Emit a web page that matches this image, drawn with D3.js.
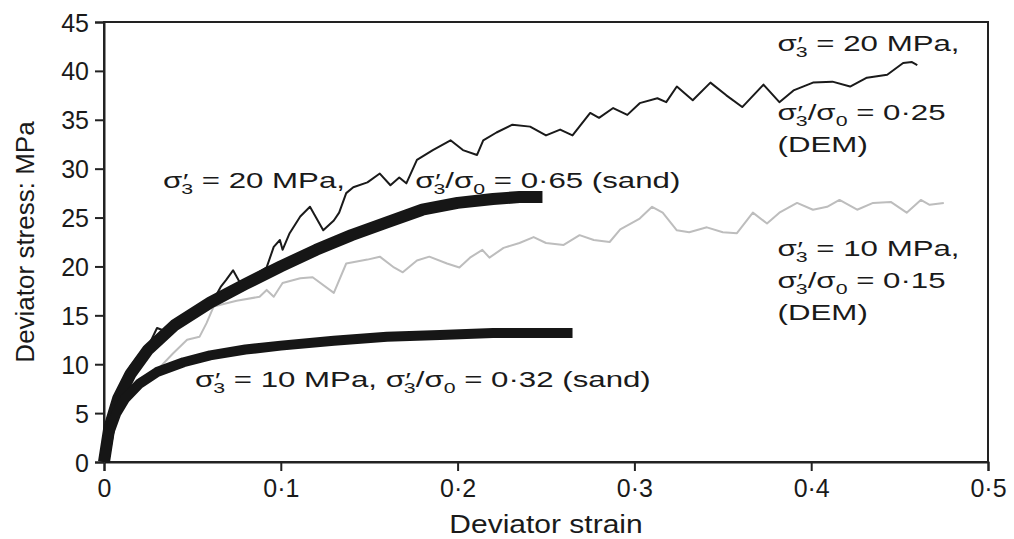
<!DOCTYPE html>
<html>
<head>
<meta charset="utf-8">
<script src="https://cdn.jsdelivr.net/npm/d3@7"></script>
<style>
  html, body { margin: 0; padding: 0; background: #fff; }
  svg text { font-family: "Liberation Sans", Arial, sans-serif; fill: #1a1a1a; white-space: pre; }
</style>
</head>
<body>
<svg id="chart" width="1014" height="539"></svg>
<script>
// axis ticks
const xTicks = [0, 0.1, 0.2, 0.3, 0.4, 0.5];
const yTicks = [0, 5, 10, 15, 20, 25, 30, 35, 40, 45];

// sand, sigma3' = 20 MPa (thick)
const sand20 = [[0,0],[0.003,3.5],[0.008,6.5],[0.015,9],[0.025,11.5],[0.04,14],[0.06,16.3],[0.08,18.2],
  [0.1,20],[0.12,21.7],[0.14,23.2],[0.16,24.5],[0.18,25.8],[0.2,26.5],[0.22,26.9],[0.235,27.1],[0.248,27.1]];

// sand, sigma3' = 10 MPa (thick)
const sand10 = [[0,0],[0.003,3],[0.007,5],[0.012,6.5],[0.02,8],[0.03,9.2],[0.045,10.2],[0.06,10.9],
  [0.08,11.5],[0.1,11.9],[0.13,12.4],[0.16,12.8],[0.19,13.0],[0.22,13.2],[0.25,13.2],[0.265,13.2]];

// DEM, sigma3' = 20 MPa (thin black)
const dem20 = [[0,0],[0.005,5],[0.01,8],[0.015,9.8],[0.0187,10.7],[0.026,12.2],[0.03,13.7],[0.033,13.5],
  [0.036,12.8],[0.047,14.5],[0.055,15.4],[0.062,16.6],[0.066,17.9],[0.069,18.6],[0.073,19.6],[0.077,18.3],
  [0.083,18.9],[0.092,19.9],[0.096,22.0],[0.0995,22.7],[0.101,21.7],[0.105,23.4],[0.111,25.1],[0.1165,26.1],
  [0.124,23.7],[0.13,24.7],[0.133,25.5],[0.137,27.5],[0.141,28.1],[0.149,28.6],[0.156,29.5],[0.162,28.3],
  [0.167,29.1],[0.171,28.5],[0.177,30.9],[0.186,31.9],[0.196,32.9],[0.203,31.9],[0.211,31.4],[0.2145,32.9],
  [0.222,33.7],[0.231,34.5],[0.241,34.3],[0.25,33.4],[0.258,34.0],[0.265,33.4],[0.275,35.7],[0.28,35.2],
  [0.288,36.2],[0.296,35.5],[0.303,36.7],[0.313,37.2],[0.318,36.8],[0.324,38.4],[0.333,37.0],[0.343,38.8],
  [0.352,37.5],[0.361,36.3],[0.373,38.6],[0.382,36.8],[0.39,38.0],[0.401,38.8],[0.412,38.9],[0.422,38.4],
  [0.4315,39.3],[0.443,39.6],[0.452,40.8],[0.457,40.9],[0.46,40.6]];

// DEM, sigma3' = 10 MPa (grey)
const dem10 = [[0,0],[0.01,6],[0.02,8.5],[0.03,9.4],[0.039,11.1],[0.047,12.5],[0.054,12.8],[0.058,14.2],
  [0.062,15.9],[0.075,16.5],[0.088,16.9],[0.092,17.6],[0.096,16.9],[0.101,18.3],[0.111,18.8],[0.118,18.9],
  [0.13,17.3],[0.137,20.3],[0.149,20.7],[0.156,21.0],[0.164,19.9],[0.169,19.4],[0.177,20.6],[0.184,21.0],
  [0.194,20.3],[0.201,19.9],[0.207,20.9],[0.214,21.7],[0.218,20.9],[0.226,21.9],[0.235,22.4],[0.243,23.0],
  [0.25,22.4],[0.26,22.2],[0.269,23.2],[0.277,22.7],[0.286,22.5],[0.292,23.8],[0.303,24.9],[0.31,26.1],
  [0.316,25.5],[0.324,23.7],[0.331,23.5],[0.341,24.0],[0.35,23.5],[0.358,23.4],[0.367,25.5],[0.375,24.4],
  [0.382,25.5],[0.392,26.5],[0.401,25.8],[0.409,26.1],[0.416,26.8],[0.426,25.8],[0.435,26.5],[0.445,26.6],
  [0.454,25.5],[0.462,26.8],[0.467,26.3],[0.475,26.5]];

// annotations: {s3} = sigma'_3, {s0} = sigma_0 ; anchor [strain, stress] of first baseline
const notes = [
  { at: [0.0334, 28.0], lines: ["{s3} = 20 MPa,"] },
  { at: [0.176, 28.0], lines: ["{s3}/{s0} = 0·65 (sand)"] },
  { at: [0.0515, 7.7], lines: ["{s3} = 10 MPa, {s3}/{s0} = 0·32 (sand)"] },
  { at: [0.381, 42.0], lines: ["{s3} = 20 MPa,"] },
  { at: [0.381, 35.0], lines: ["{s3}/{s0} = 0·25", "(DEM)"] },
  { at: [0.381, 21.1], lines: ["{s3} = 10 MPa,", "{s3}/{s0} = 0·15", "(DEM)"] }
];

const margin = {left: 104, right: 26, top: 22, bottom: 77};
const W = 1014, H = 539;
const svg = d3.select("#chart");

const x = d3.scaleLinear().domain([0, 0.5]).range([margin.left, W - margin.right]);
const y = d3.scaleLinear().domain([0, 45]).range([H - margin.bottom, margin.top]);

const fmt = d => d === 0 ? "0" : String(d).replace(".", "·");

// frame
svg.append("rect")
  .attr("x", x(0)).attr("y", y(45))
  .attr("width", x(0.5) - x(0)).attr("height", y(0) - y(45))
  .attr("fill", "none").attr("stroke", "#222").attr("stroke-width", 2);

const xAxis = svg.append("g")
  .attr("transform", `translate(0,${y(0)})`)
  .call(d3.axisBottom(x).tickValues(xTicks).tickFormat(fmt).tickSize(9).tickPadding(6));
const yAxis = svg.append("g")
  .attr("transform", `translate(${x(0)},0)`)
  .call(d3.axisLeft(y).tickValues(yTicks).tickSize(9).tickPadding(6));

[xAxis, yAxis].forEach(a => {
  a.select(".domain").attr("stroke", "#222").attr("stroke-width", 2);
  a.selectAll(".tick line").attr("stroke", "#222").attr("stroke-width", 2);
  a.selectAll(".tick text").attr("font-size", 25).attr("fill", "#1a1a1a")
    .attr("font-family", "Liberation Sans, Arial, sans-serif");
});
yAxis.selectAll(".tick text").attr("dy", "0.36em");
xAxis.selectAll(".tick text").attr("dy", "0.8em");

svg.append("text")
  .attr("transform", `translate(${(x(0) + x(0.5)) / 2},533) scale(1.2,1)`)
  .attr("text-anchor", "middle").attr("font-size", 25)
  .text("Deviator strain");

svg.append("text")
  .attr("transform", `translate(34,${(y(0) + y(45)) / 2}) rotate(-90)`)
  .attr("text-anchor", "middle").attr("font-size", 26)
  .text("Deviator stress: MPa");

const line = d3.line().x(d => x(d[0])).y(d => y(d[1]));

svg.append("path").datum(dem10).attr("d", line)
  .attr("fill", "none").attr("stroke", "#bdbdbd").attr("stroke-width", 2).attr("stroke-linejoin", "round");
svg.append("path").datum(dem20).attr("d", line)
  .attr("fill", "none").attr("stroke", "#1a1a1a").attr("stroke-width", 2).attr("stroke-linejoin", "round");
svg.append("path").datum(sand20).attr("d", line)
  .attr("fill", "none").attr("stroke", "#161616").attr("stroke-width", 12).attr("stroke-linejoin", "round");
svg.append("path").datum(sand10).attr("d", line)
  .attr("fill", "none").attr("stroke", "#161616").attr("stroke-width", 10).attr("stroke-linejoin", "round");

// writes one line, turning the sigma tokens into sub/superscripts
function writeLine (t, str) {
  let dy = 0;
  const put = (txt, opts = {}) => {
    const s = t.append("tspan").text(txt);
    if (opts.size) s.attr("font-size", opts.size);
    if (opts.dx) s.attr("dx", opts.dx);
    const d = dy + (opts.dy || 0);
    if (d) s.attr("dy", d);
    dy = 0;
    return s;
  };
  str.split(/(\{s3\}|\{s0\})/).filter(s => s.length).forEach(part => {
    if (part === "{s3}") {
      put("σ");
      put("′", {size: 20, dx: 0.5});
      put("3", {size: 15, dx: -5, dy: 6});
      dy = -6;
    } else if (part === "{s0}") {
      put("σ");
      put("0", {size: 15, dy: 6});
      dy = -6;
    } else {
      put(part);
    }
  });
}

notes.forEach(n => {
  n.lines.forEach((ln, i) => {
    const t = svg.append("text")
      .attr("transform", `translate(${x(n.at[0])},${y(n.at[1]) + i * 32}) scale(1.42,1)`)
      .attr("font-size", 22);
    writeLine(t, ln);
  });
});
</script>
</body>
</html>
